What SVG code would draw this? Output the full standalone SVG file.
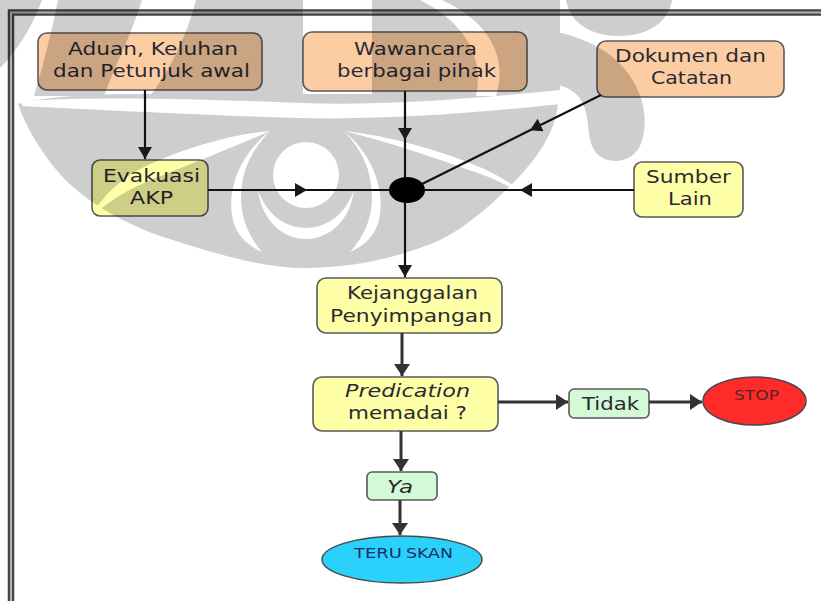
<svg xmlns="http://www.w3.org/2000/svg" width="821" height="601" viewBox="0 0 821 601">
  <defs>
    <marker id="arrow" markerUnits="userSpaceOnUse" markerWidth="13" markerHeight="14" refX="12" refY="7" orient="auto">
      <path d="M0,0 L12,7 L0,14 Z" fill="#1a1a1a"/>
    </marker>
    <marker id="arrow-lg" markerUnits="userSpaceOnUse" markerWidth="13" markerHeight="16" refX="12" refY="8" orient="auto">
      <path d="M0,0 L12,8 L0,16 Z" fill="#333"/>
    </marker>
    <!-- emblem silhouette: white = tinted, black = cut-outs -->
    <mask id="emblem-mask" maskUnits="userSpaceOnUse" x="0" y="0" width="821" height="300">
      <g fill="#fff">
        <path d="M0,0 H42 C32,28 16,52 0,68 Z"/>
        <path d="M58,0 H142 C130,38 114,68 104,96 H34 C44,62 52,30 58,0 Z"/>
        <path d="M196,0 H303 V96 H150 C170,70 186,38 196,0 Z"/>
        <path d="M372,0 H560 V96 H372 Z"/>
        <path d="M566,0 H672 C668,24 646,36 619,36 C592,36 570,24 566,0 Z"/>
        <path d="M548,30 C578,36 604,46 622,66 C644,90 650,122 640,146 C630,166 600,166 592,146 C586,128 590,110 578,96 C568,86 558,84 548,84 Z"/>
        <path d="M18,104 C40,98 80,94 130,94 H558 C560,120 545,152 510,186 C486,210 464,228 440,240 C400,258 350,268 305,268 C260,268 210,252 160,236 C110,218 72,192 50,162 C35,142 25,124 18,104 Z"/>
      </g>
      <g fill="#000">
        <path d="M420,0 H442 C490,22 508,58 496,96 H476 C484,60 468,24 420,0 Z"/>
        <path d="M22,101 C100,96 200,99 300,103 C380,106 470,99 560,90 L560,104 C470,114 380,120 300,118 C200,115 100,110 22,106 Z"/>
        <circle cx="306" cy="175" r="33"/>
        <path d="M258,190 C262,222 284,239 306,239 C328,239 350,222 354,190 C346,213 328,228 306,228 C284,228 266,213 258,190 Z"/>
        <path d="M270,131 C240,154 226,190 233,220 C237,236 248,246 262,252 C249,237 241,218 241,198 C241,170 252,150 270,131 Z"/>
        <path d="M270,131 C234,134 188,147 148,165 C122,177 102,196 90,218 C110,200 130,188 156,178 C196,162 236,146 270,131 Z"/>
        <path d="M344,131 C372,154 386,190 379,220 C375,236 364,246 350,252 C364,237 372,218 372,198 C372,170 362,150 344,131 Z"/>
        <path d="M344,131 C390,136 440,150 482,168 C506,179 522,190 538,206 C516,188 494,178 472,171 C430,156 388,142 344,131 Z"/>
      </g>
    </mask>
  </defs>
  <style>
    .box { stroke: #5a5a5a; stroke-width: 1.6; }
    .peach { fill: #fccda2; }
    .yellow { fill: #ffffa8; }
    .green { fill: #d3f9d6; }
    .lbl { font-family: "DejaVu Sans", Verdana, sans-serif; font-size: 17px; fill: #2a2a34; }
    .it { font-style: italic; }
    .small { font-size: 14px; }
    .conn { fill: none; stroke: #111; stroke-width: 2.2; }
    .conn-lg { fill: none; stroke: #333; stroke-width: 3; }
  </style>

  <rect width="821" height="601" fill="#fff"/>

  <!-- double frame along the top and left edges -->
  <path d="M11,601 V12.5 H821" fill="none" stroke="#444" stroke-width="6.5"/>
  <path d="M11,601 V12.5 H821" fill="none" stroke="#b4b4b4" stroke-width="2"/>

  <g id="aduan">
    <rect class="box peach" x="38" y="33" width="224" height="57" rx="9"/>
    <text class="lbl" x="68" y="55" textLength="170" lengthAdjust="spacingAndGlyphs">Aduan, Keluhan</text>
    <text class="lbl" x="53" y="77" textLength="197" lengthAdjust="spacingAndGlyphs">dan Petunjuk awal</text>
  </g>
  <g id="wawancara">
    <rect class="box peach" x="303" y="32" width="224" height="59" rx="9"/>
    <text class="lbl" x="354" y="55" textLength="123" lengthAdjust="spacingAndGlyphs">Wawancara</text>
    <text class="lbl" x="337" y="77" textLength="159" lengthAdjust="spacingAndGlyphs">berbagai pihak</text>
  </g>
  <g id="dokumen">
    <rect class="box peach" x="597" y="41" width="187" height="56" rx="9"/>
    <text class="lbl" x="615" y="62" textLength="151" lengthAdjust="spacingAndGlyphs">Dokumen dan</text>
    <text class="lbl" x="651" y="84" textLength="81" lengthAdjust="spacingAndGlyphs">Catatan</text>
  </g>
  <g id="evakuasi">
    <rect class="box yellow" x="92" y="160" width="116" height="56" rx="8"/>
    <text class="lbl" x="103" y="182" textLength="97" lengthAdjust="spacingAndGlyphs">Evakuasi</text>
    <text class="lbl" x="130" y="204" textLength="43" lengthAdjust="spacingAndGlyphs">AKP</text>
  </g>
  <g id="sumber">
    <rect class="box yellow" x="634" y="162" width="109" height="55" rx="8"/>
    <text class="lbl" x="646" y="183" textLength="85" lengthAdjust="spacingAndGlyphs">Sumber</text>
    <text class="lbl" x="668" y="205" textLength="44" lengthAdjust="spacingAndGlyphs">Lain</text>
  </g>
  <g id="hub">
    <ellipse cx="407" cy="190" rx="18" ry="13" fill="#000"/>
  </g>
  <g id="kejanggalan">
    <rect class="box yellow" x="317" y="278" width="185" height="55" rx="9"/>
    <text class="lbl" x="347" y="299" textLength="131" lengthAdjust="spacingAndGlyphs">Kejanggalan</text>
    <text class="lbl" x="330" y="322" textLength="162" lengthAdjust="spacingAndGlyphs">Penyimpangan</text>
  </g>
  <g id="predication">
    <rect class="box yellow" x="313" y="377" width="185" height="54" rx="9"/>
    <text class="lbl it" x="345" y="397" textLength="125" lengthAdjust="spacingAndGlyphs">Predication</text>
    <text class="lbl" x="348" y="419" textLength="119" lengthAdjust="spacingAndGlyphs">memadai ?</text>
  </g>
  <g id="tidak">
    <rect class="box green" x="569" y="389" width="80" height="29" rx="5"/>
    <text class="lbl" x="582" y="410" textLength="57" lengthAdjust="spacingAndGlyphs">Tidak</text>
  </g>
  <g id="stop">
    <ellipse cx="754.5" cy="401" rx="51.5" ry="24" fill="#ff2a2a" stroke="#4a4a4a" stroke-width="1.5"/>
    <text class="lbl small" x="734" y="400" textLength="45" lengthAdjust="spacingAndGlyphs" style="fill:#5a2424">STOP</text>
  </g>
  <g id="ya">
    <rect class="box green" x="367" y="472" width="70" height="28" rx="5"/>
    <text class="lbl it" x="387" y="493" textLength="26" lengthAdjust="spacingAndGlyphs">Ya</text>
  </g>
  <g id="teruskan">
    <ellipse cx="402" cy="559.5" rx="80" ry="23.5" fill="#2ad2fb" stroke="#4a4a4a" stroke-width="1.5"/>
    <text class="lbl small" y="558" style="fill:#1c2c6c"><tspan x="354" textLength="48" lengthAdjust="spacingAndGlyphs">TERU</tspan><tspan x="406" textLength="47" lengthAdjust="spacingAndGlyphs">SKAN</tspan></text>
  </g>

  <!-- faint background emblem printed over the upper half -->
  <rect id="emblem" x="0" y="0" width="821" height="300" fill="#000" opacity="0.19" mask="url(#emblem-mask)"/>

  <g id="connectors">
    <path class="conn" d="M145,90 V159" marker-end="url(#arrow)"/>
    <path class="conn" d="M405,91 V140 V178" marker-mid="url(#arrow)"/>
    <path class="conn" d="M208,190 H307 H392" marker-mid="url(#arrow)"/>
    <path class="conn" d="M634,190 H520 H424" marker-mid="url(#arrow)"/>
    <path class="conn" d="M601,95 L530,130.3 L422,184" marker-mid="url(#arrow)"/>
    <path class="conn" d="M405,203 V277" marker-end="url(#arrow)"/>
    <path class="conn-lg" d="M402,333 V376" marker-end="url(#arrow-lg)"/>
    <path class="conn-lg" d="M498,402 H568" marker-end="url(#arrow-lg)"/>
    <path class="conn-lg" d="M649,402 H702" marker-end="url(#arrow-lg)"/>
    <path class="conn-lg" d="M401,431 V471" marker-end="url(#arrow-lg)"/>
    <path class="conn-lg" d="M400,500 V535" marker-end="url(#arrow-lg)"/>
  </g>
</svg>
